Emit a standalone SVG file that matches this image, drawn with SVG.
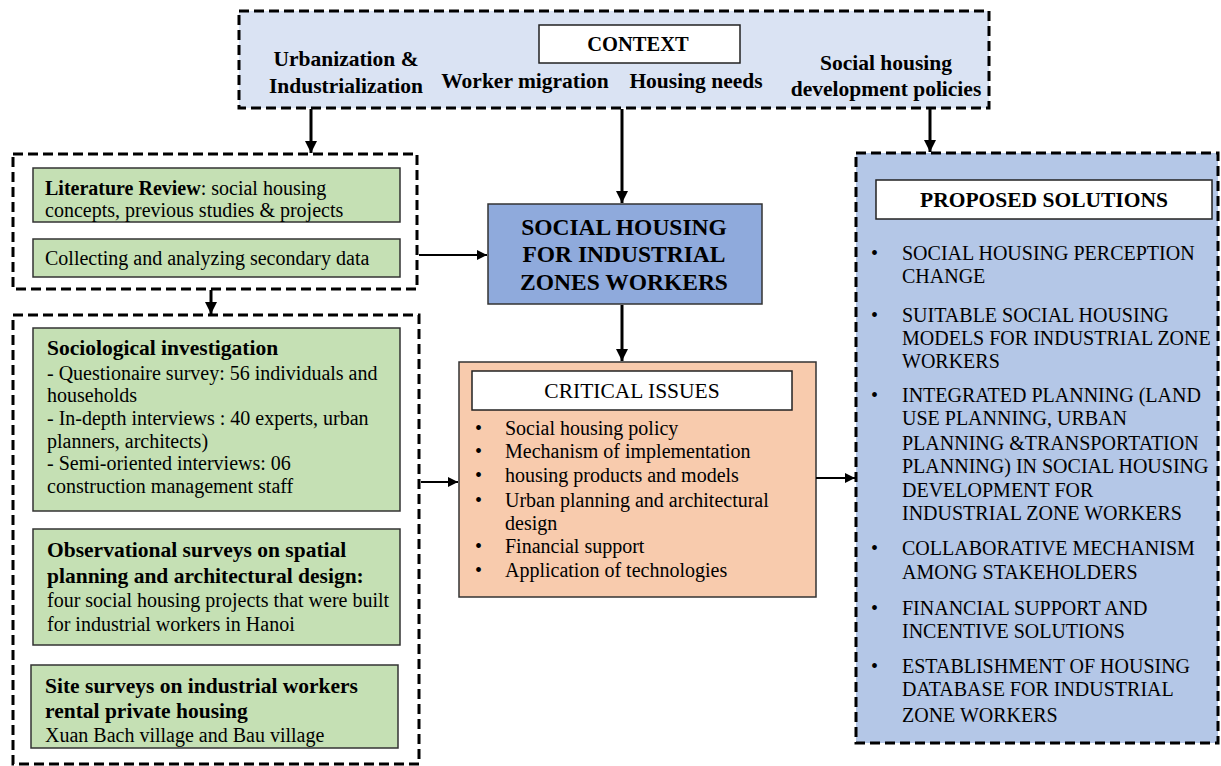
<svg xmlns="http://www.w3.org/2000/svg" width="1221" height="766" viewBox="0 0 1221 766">
<style>
.t{font-family:"Liberation Serif","Times New Roman",serif;fill:#000}
.b{font-weight:bold}
.ctx{font-size:21.5px;font-weight:bold}
.body{font-size:20px}
.hd{font-size:21.5px;font-weight:bold}
.dash{stroke:#000;stroke-width:3;stroke-dasharray:10 5}
.box{stroke:#333;stroke-width:1.5}
.green{fill:#c5e0b4}
.white{fill:#fff;stroke:#222;stroke-width:1.5}
.conn{stroke:#000;fill:none}
</style>
<defs>
<marker id="ah" viewBox="0 0 10 10" refX="10" refY="5" markerWidth="4" markerHeight="4" orient="auto" markerUnits="strokeWidth">
<path d="M0,0 L10,5 L0,10 Z" fill="#000"/>
</marker>
<marker id="ah2" viewBox="0 0 10 10" refX="10" refY="5" markerWidth="5" markerHeight="5" orient="auto" markerUnits="strokeWidth">
<path d="M0,0 L10,5 L0,10 Z" fill="#000"/>
</marker>
</defs>
<rect width="1221" height="766" fill="#fff"/>

<g id="context">
<rect x="239" y="11" width="750" height="97" fill="#dae3f3" class="dash"/>
<rect x="539" y="25" width="201" height="38" class="white"/>
<text class="t b" x="638" y="51" font-size="20.5" text-anchor="middle">CONTEXT</text>
<text class="t ctx" x="346" y="66" text-anchor="middle">Urbanization &amp;</text>
<text class="t ctx" x="346" y="93" text-anchor="middle">Industrialization</text>
<text class="t ctx" x="525" y="88" text-anchor="middle">Worker migration</text>
<text class="t ctx" x="696" y="88" text-anchor="middle">Housing needs</text>
<text class="t ctx" x="886" y="70" text-anchor="middle">Social housing</text>
<text class="t ctx" x="886" y="96" text-anchor="middle">development policies</text>
</g>

<g id="literature">
<rect x="13" y="154" width="404" height="135" fill="none" class="dash"/>
<rect x="33" y="168" width="367" height="54" class="box green"/>
<text class="t body" x="45" y="195"><tspan font-weight="bold">Literature Review</tspan>: social housing</text>
<text class="t body" x="45" y="217">concepts, previous studies &amp; projects</text>
<rect x="33" y="239" width="367" height="38" class="box green"/>
<text class="t body" x="45" y="265">Collecting and analyzing secondary data</text>
</g>

<g id="surveys">
<rect x="13" y="315" width="406" height="449" fill="none" class="dash"/>
<rect x="33" y="328" width="367" height="183" class="box green"/>
<text class="t hd" x="47" y="355">Sociological investigation</text>
<text class="t body" x="47" y="380">- Questionaire survey: 56 individuals and</text>
<text class="t body" x="47" y="402">households</text>
<text class="t body" x="47" y="425">- In-depth interviews : 40 experts, urban</text>
<text class="t body" x="47" y="448">planners, architects)</text>
<text class="t body" x="47" y="470">- Semi-oriented interviews: 06</text>
<text class="t body" x="47" y="493">construction management staff</text>
<rect x="33" y="529" width="367" height="116" class="box green"/>
<text class="t hd" x="47" y="557">Observational surveys on spatial</text>
<text class="t hd" x="47" y="583">planning and architectural design:</text>
<text class="t body" x="47" y="607">four social housing projects that were built</text>
<text class="t body" x="47" y="631">for industrial workers in Hanoi</text>
<rect x="31" y="665" width="367" height="83" class="box green"/>
<text class="t hd" x="45" y="693">Site surveys on industrial workers</text>
<text class="t hd" x="45" y="718">rental private housing</text>
<text class="t body" x="45" y="742">Xuan Bach village and Bau village</text>
</g>

<g id="social-housing">
<rect x="488" y="204" width="274" height="100" fill="#8faadc" class="box"/>
<text class="t b" x="624" y="235" font-size="23.5" text-anchor="middle">SOCIAL HOUSING</text>
<text class="t b" x="624" y="262" font-size="23.5" text-anchor="middle">FOR INDUSTRIAL</text>
<text class="t b" x="624" y="290" font-size="23.5" text-anchor="middle">ZONES WORKERS</text>
</g>

<g id="critical-issues">
<rect x="459" y="362" width="357" height="235" fill="#f8cbad" class="box"/>
<rect x="472" y="371" width="320" height="39" class="white"/>
<text class="t" x="632" y="398" font-size="21.5" text-anchor="middle">CRITICAL ISSUES</text>
<g class="t body">
<text x="475" y="435">•</text><text x="505" y="435">Social housing policy</text>
<text x="475" y="458">•</text><text x="505" y="458">Mechanism of implementation</text>
<text x="475" y="482">•</text><text x="505" y="482">housing products and models</text>
<text x="475" y="507">•</text><text x="505" y="507">Urban planning and architectural</text>
<text x="505" y="530">design</text>
<text x="475" y="553">•</text><text x="505" y="553">Financial support</text>
<text x="475" y="577">•</text><text x="505" y="577">Application of technologies</text>
</g>
</g>

<g id="proposed-solutions">
<rect x="856" y="153" width="362" height="590" fill="#b4c7e7" class="dash"/>
<rect x="876" y="180" width="336" height="39" class="white"/>
<text class="t b" x="1044" y="207" font-size="21.5" text-anchor="middle">PROPOSED SOLUTIONS</text>
<g class="t body">
<text x="871" y="260">•</text><text x="902" y="260">SOCIAL HOUSING PERCEPTION</text>
<text x="902" y="283">CHANGE</text>
<text x="871" y="322">•</text><text x="902" y="322">SUITABLE SOCIAL HOUSING</text>
<text x="902" y="345">MODELS FOR INDUSTRIAL ZONE</text>
<text x="902" y="368">WORKERS</text>
<text x="871" y="402">•</text><text x="902" y="402">INTEGRATED PLANNING (LAND</text>
<text x="902" y="425">USE PLANNING, URBAN</text>
<text x="902" y="450">PLANNING &amp;TRANSPORTATION</text>
<text x="902" y="473">PLANNING) IN SOCIAL HOUSING</text>
<text x="902" y="497">DEVELOPMENT FOR</text>
<text x="902" y="520">INDUSTRIAL ZONE WORKERS</text>
<text x="871" y="555">•</text><text x="902" y="555">COLLABORATIVE MECHANISM</text>
<text x="902" y="579">AMONG STAKEHOLDERS</text>
<text x="871" y="615">•</text><text x="902" y="615">FINANCIAL SUPPORT AND</text>
<text x="902" y="638">INCENTIVE SOLUTIONS</text>
<text x="871" y="673">•</text><text x="902" y="673">ESTABLISHMENT OF HOUSING</text>
<text x="902" y="696">DATABASE FOR INDUSTRIAL</text>
<text x="902" y="722">ZONE WORKERS</text>
</g>
</g>

<g id="connectors">
<line class="conn" x1="311" y1="109" x2="311" y2="153" stroke-width="3" marker-end="url(#ah)"/>
<line class="conn" x1="622" y1="109" x2="622" y2="203" stroke-width="3" marker-end="url(#ah)"/>
<line class="conn" x1="930" y1="109" x2="930" y2="152" stroke-width="3" marker-end="url(#ah)"/>
<line class="conn" x1="211" y1="290" x2="211" y2="314" stroke-width="3" marker-end="url(#ah)"/>
<line class="conn" x1="419" y1="255" x2="487" y2="255" stroke-width="2" marker-end="url(#ah2)"/>
<line class="conn" x1="622" y1="305" x2="622" y2="361" stroke-width="3" marker-end="url(#ah)"/>
<line class="conn" x1="421" y1="482" x2="458" y2="482" stroke-width="2" marker-end="url(#ah2)"/>
<line class="conn" x1="816" y1="478" x2="855" y2="478" stroke-width="2" marker-end="url(#ah2)"/>
</g>
</svg>
